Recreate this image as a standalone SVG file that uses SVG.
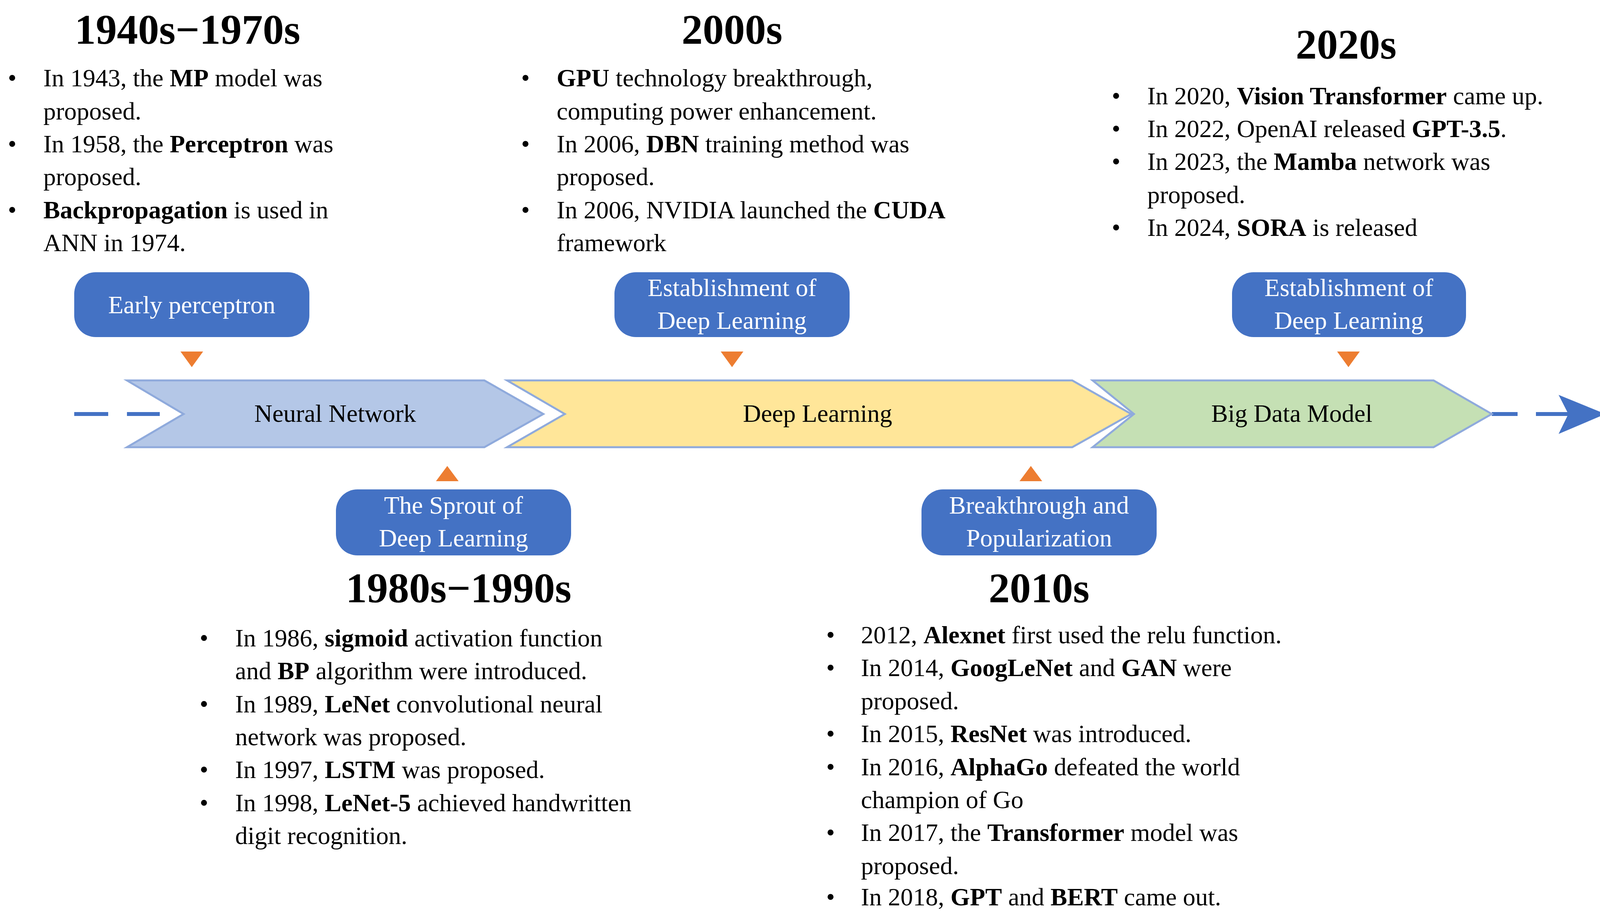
<svg xmlns="http://www.w3.org/2000/svg" width="4117" height="2335" viewBox="0 0 4117 2335">
<style>
text{font-family:"Liberation Serif","Times New Roman",serif;fill:#000}
.h{font-size:108px;font-weight:bold;text-anchor:middle}
.b{font-size:64px}
.btn{fill:#4472C4}
.bt{font-size:64px;fill:#fff;text-anchor:middle}
.tri{fill:#ED7D31}
.ct{font-size:64px;text-anchor:middle}
.dash{stroke:#4472C4;stroke-width:10;fill:none}
</style>
<rect width="4117" height="2335" fill="#fff"/>
<g id="connectors">
<line class="dash" x1="190" y1="1060" x2="277" y2="1060"/>
<line class="dash" x1="325" y1="1060" x2="409" y2="1060"/>
<line class="dash" x1="3819" y1="1060" x2="3885" y2="1060"/>
<line class="dash" x1="3932" y1="1060" x2="4020" y2="1060"/>
<polygon points="3990,1011 4110,1060 3990,1111 4015,1060" fill="#4472C4"/>
<polygon class="tri" points="462,900 520,900 491,940"/>
<polygon class="tri" points="1845,900 1903,900 1874,940"/>
<polygon class="tri" points="3423,900 3481,900 3452,940"/>
<polygon class="tri" points="1116,1232 1174,1232 1145,1193"/>
<polygon class="tri" points="2610,1232 2668,1232 2639,1193"/>
</g>
<g id="neural-network">
<polygon points="325,974 1240,974 1391,1060 1240,1145 325,1145 470,1060" fill="#B4C7E7" stroke="#8FAADC" stroke-width="5"/>
<text class="ct" x="858" y="1080">Neural Network</text>
</g>
<g id="deep-learning">
<polygon points="1298,974 2745,974 2896,1060 2745,1145 1298,1145 1446,1060" fill="#FFE699" stroke="#8FAADC" stroke-width="5"/>
<text class="ct" x="2093" y="1080">Deep Learning</text>
</g>
<g id="big-data-model">
<polygon points="2797,974 3670,974 3819,1060 3670,1145 2797,1145 2903,1060" fill="#C5E0B4" stroke="#8FAADC" stroke-width="5"/>
<text class="ct" x="3307" y="1080">Big Data Model</text>
</g>
<g id="btn-early">
<rect class="btn" x="190" y="697" width="602" height="166" rx="55"/>
<text class="bt" x="491" y="802">Early perceptron</text>
</g>
<g id="btn-est1">
<rect class="btn" x="1573" y="697" width="602" height="166" rx="55"/>
<text class="bt" x="1874" y="758">Establishment of</text>
<text class="bt" x="1874" y="842">Deep Learning</text>
</g>
<g id="btn-est2">
<rect class="btn" x="3154" y="697" width="599" height="166" rx="55"/>
<text class="bt" x="3453" y="758">Establishment of</text>
<text class="bt" x="3453" y="842">Deep Learning</text>
</g>
<g id="btn-sprout">
<rect class="btn" x="860" y="1253" width="602" height="169" rx="55"/>
<text class="bt" x="1161" y="1315">The Sprout of</text>
<text class="bt" x="1161" y="1399">Deep Learning</text>
</g>
<g id="btn-break">
<rect class="btn" x="2359" y="1253" width="602" height="169" rx="55"/>
<text class="bt" x="2660" y="1315">Breakthrough and</text>
<text class="bt" x="2660" y="1399">Popularization</text>
</g>
<g id="era-1940">
<text class="h" x="480" y="112">1940s−1970s</text>
<g class="b">
<text x="20" y="221">•</text><text x="111" y="221">In 1943, the <tspan font-weight="bold">MP</tspan> model was</text>
<text x="111" y="306">proposed.</text>
<text x="20" y="390">•</text><text x="111" y="390">In 1958, the <tspan font-weight="bold">Perceptron</tspan> was</text>
<text x="111" y="474">proposed.</text>
<text x="20" y="559">•</text><text x="111" y="559"><tspan font-weight="bold">Backpropagation</tspan> is used in</text>
<text x="111" y="643">ANN in 1974.</text>
</g>
</g>
<g id="era-2000">
<text class="h" x="1874" y="112">2000s</text>
<g class="b">
<text x="1334" y="221">•</text><text x="1425" y="221"><tspan font-weight="bold">GPU</tspan> technology breakthrough,</text>
<text x="1425" y="306">computing power enhancement.</text>
<text x="1334" y="390">•</text><text x="1425" y="390">In 2006, <tspan font-weight="bold">DBN</tspan>  training method was</text>
<text x="1425" y="474">proposed.</text>
<text x="1334" y="559">•</text><text x="1425" y="559">In 2006, NVIDIA launched the <tspan font-weight="bold">CUDA</tspan></text>
<text x="1425" y="643">framework</text>
</g>
</g>
<g id="era-2020">
<text class="h" x="3446" y="150">2020s</text>
<g class="b">
<text x="2846" y="267">•</text><text x="2937" y="267">In 2020, <tspan font-weight="bold">Vision Transformer</tspan> came up.</text>
<text x="2846" y="351">•</text><text x="2937" y="351">In 2022, OpenAI released <tspan font-weight="bold">GPT-3.5</tspan>.</text>
<text x="2846" y="435">•</text><text x="2937" y="435">In 2023, the <tspan font-weight="bold">Mamba</tspan> network was</text>
<text x="2937" y="520">proposed.</text>
<text x="2846" y="604">•</text><text x="2937" y="604">In 2024, <tspan font-weight="bold">SORA</tspan> is released</text>
</g>
</g>
<g id="era-1980">
<text class="h" x="1174" y="1542">1980s−1990s</text>
<g class="b">
<text x="511" y="1655">•</text><text x="602" y="1655">In 1986, <tspan font-weight="bold">sigmoid</tspan> activation function</text>
<text x="602" y="1739">and <tspan font-weight="bold">BP</tspan> algorithm were introduced.</text>
<text x="511" y="1824">•</text><text x="602" y="1824">In 1989, <tspan font-weight="bold">LeNet</tspan> convolutional neural</text>
<text x="602" y="1908">network was proposed.</text>
<text x="511" y="1992">•</text><text x="602" y="1992">In 1997, <tspan font-weight="bold">LSTM</tspan> was proposed.</text>
<text x="511" y="2077">•</text><text x="602" y="2077">In 1998, <tspan font-weight="bold">LeNet-5</tspan> achieved handwritten</text>
<text x="602" y="2161">digit recognition.</text>
</g>
</g>
<g id="era-2010">
<text class="h" x="2660" y="1542">2010s</text>
<g class="b">
<text x="2115" y="1647">•</text><text x="2204" y="1647">2012, <tspan font-weight="bold">Alexnet</tspan> first used the relu function.</text>
<text x="2115" y="1731">•</text><text x="2204" y="1731">In 2014, <tspan font-weight="bold">GoogLeNet</tspan> and <tspan font-weight="bold">GAN</tspan> were</text>
<text x="2204" y="1816">proposed.</text>
<text x="2115" y="1900">•</text><text x="2204" y="1900">In 2015, <tspan font-weight="bold">ResNet</tspan> was introduced.</text>
<text x="2115" y="1985">•</text><text x="2204" y="1985">In 2016, <tspan font-weight="bold">AlphaGo</tspan> defeated the world</text>
<text x="2204" y="2069">champion of Go</text>
<text x="2115" y="2153">•</text><text x="2204" y="2153">In 2017, the <tspan font-weight="bold">Transformer</tspan> model was</text>
<text x="2204" y="2238">proposed.</text>
<text x="2115" y="2318">•</text><text x="2204" y="2318">In 2018, <tspan font-weight="bold">GPT</tspan> and <tspan font-weight="bold">BERT</tspan> came out.</text>
</g>
</g>
</svg>
